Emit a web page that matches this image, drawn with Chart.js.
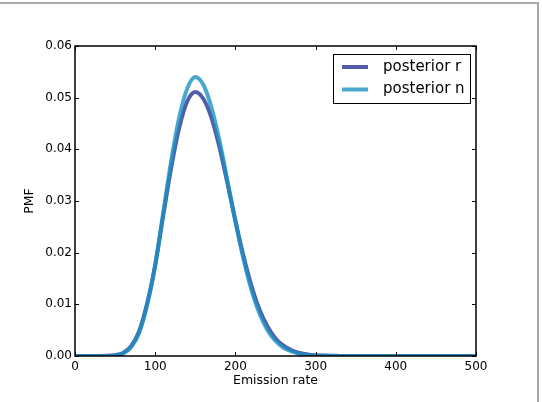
<!DOCTYPE html>
<html>
<head>
<meta charset="utf-8">
<script src="https://cdn.jsdelivr.net/npm/chart.js@4.4.0/dist/chart.umd.min.js"></script>
<style>
  html, body { margin: 0; padding: 0; background: #fff; }
  #wrap { position: relative; width: 542px; height: 402px; }
  #frame {
    position: absolute; left: 0; top: 2px; width: 539px; height: 400px;
    box-sizing: border-box;
    border-top: 2px solid #a8a8a8; border-right: 2px solid #a8a8a8;
    pointer-events: none;
  }
</style>
</head>
<body>
<div id="wrap">
  <canvas id="myChart" width="542" height="402"></canvas>
  <div id="frame"></div>
</div>
<script>
// emission rate (x) and the two posterior PMFs
const rates = [0, 10, 20, 30, 40, 50, 60, 70, 80, 90,
  100, 110, 120, 130, 140, 150, 160, 170, 180, 190,
  200, 210, 220, 230, 240, 250, 260, 270, 280, 290,
  300, 310, 320, 330, 340, 350, 360, 370, 380, 390,
  400, 410, 420, 430, 440, 450, 460, 470, 480, 490, 500];
const posteriorR = [0, 0, 0, 0, 0.00003, 0.00015, 0.0006, 0.0019, 0.0048, 0.0102,
  0.0176, 0.0272, 0.0365, 0.0442, 0.0493, 0.0511, 0.0498, 0.0462, 0.0405, 0.0335,
  0.0262, 0.0194, 0.0136, 0.0090, 0.0057, 0.0034, 0.0020, 0.0011, 0.0006, 0.0003,
  0.00015, 0.00008, 0.00004, 0.00002, 0, 0, 0, 0, 0, 0,
  0, 0, 0, 0, 0, 0, 0, 0, 0, 0, 0];
const posteriorN = [0, 0, 0, 0, 0.00002, 0.0001, 0.0005, 0.0017, 0.0045, 0.0099,
  0.0176, 0.0277, 0.0378, 0.0462, 0.0518, 0.0540, 0.0525, 0.0482, 0.0418, 0.0340,
  0.0260, 0.0188, 0.0128, 0.0082, 0.0050, 0.0029, 0.0016, 0.0009, 0.0004, 0.0002,
  0.0001, 0.00005, 0, 0, 0, 0, 0, 0, 0, 0,
  0, 0, 0, 0, 0, 0, 0, 0, 0, 0, 0];
const seriesNames = ["posterior r", "posterior n"];
const seriesColors = ["rgba(37,52,148,0.8)", "rgba(29,145,192,0.8)"];
const xTicks = [0, 100, 200, 300, 400, 500];
const yTicks = [0, 0.01, 0.02, 0.03, 0.04, 0.05, 0.06];

const FONT = "'DejaVu Sans', sans-serif";

function toPoints(vals) {
  return rates.map((r, i) => ({ x: r, y: vals[i] }));
}

// box round the plot plus matplotlib style inward ticks on all sides
const frameTicks = {
  id: "frameTicks",
  afterDatasetsDraw(chart) {
    const { ctx, chartArea: a, scales: { x, y } } = chart;
    ctx.save();
    ctx.strokeStyle = "#000";
    ctx.lineWidth = 1;
    ctx.beginPath();
    x.ticks.forEach(t => {
      const px = Math.round(x.getPixelForValue(t.value)) + 0.5;
      ctx.moveTo(px, a.bottom); ctx.lineTo(px, a.bottom - 4);
      ctx.moveTo(px, a.top); ctx.lineTo(px, a.top + 4);
    });
    y.ticks.forEach(t => {
      const py = Math.round(y.getPixelForValue(t.value)) + 0.5;
      ctx.moveTo(a.left, py); ctx.lineTo(a.left + 4, py);
      ctx.moveTo(a.right, py); ctx.lineTo(a.right - 4, py);
    });
    ctx.stroke();
    ctx.lineWidth = 1.5;
    ctx.strokeRect(a.left, a.top, a.right - a.left, a.bottom - a.top);
    ctx.restore();
  }
};

// legend box in the upper right corner of the plot
const boxLegend = {
  id: "boxLegend",
  afterDraw(chart) {
    const { ctx, chartArea: a } = chart;
    const left = a.right - 143, top = a.top + 8;
    ctx.save();
    ctx.fillStyle = "#fff";
    ctx.fillRect(left, top, 137, 49);
    ctx.strokeStyle = "#000";
    ctx.lineWidth = 1;
    ctx.strokeRect(left + 0.5, top + 0.5, 137, 49);
    ctx.font = "15px " + FONT;
    ctx.textBaseline = "middle";
    ctx.textAlign = "left";
    chart.data.datasets.forEach((ds, i) => {
      const rowY = top + 13 + i * 22.5;
      ctx.strokeStyle = ds.borderColor;
      ctx.lineWidth = 4;
      ctx.beginPath();
      ctx.moveTo(left + 9, rowY);
      ctx.lineTo(left + 35, rowY);
      ctx.stroke();
      ctx.fillStyle = "#000";
      ctx.fillText(ds.label, left + 50, rowY);
    });
    ctx.restore();
  }
};

const barCanvas = document.getElementById("myChart");

const myChart = new Chart(barCanvas, {
  type: "line",
  data: {
    datasets: [{
      label: seriesNames[0],
      data: toPoints(posteriorR),
      borderColor: seriesColors[0],
      borderWidth: 4,
      pointRadius: 0,
      cubicInterpolationMode: "monotone",
      order: 1
    }, {
      label: seriesNames[1],
      data: toPoints(posteriorN),
      borderColor: seriesColors[1],
      borderWidth: 4,
      pointRadius: 0,
      cubicInterpolationMode: "monotone",
      order: 0
    }]
  },
  options: {
    responsive: false,
    animation: false,
    layout: { padding: { left: 0, right: 66, top: 46, bottom: 10 } },
    scales: {
      x: {
        type: "linear",
        min: 0,
        max: 500,
        afterBuildTicks: s => { s.ticks = xTicks.map(v => ({ value: v })); },
        afterFit: s => { s.height = 36; },
        ticks: {
          color: "#000",
          padding: 4,
          maxRotation: 0,
          font: { family: FONT, size: 12 }
        },
        grid: { display: false, drawTicks: false },
        border: { display: false },
        title: {
          display: true,
          text: "Emission rate",
          color: "#000",
          font: { family: FONT, size: 12.5 },
          padding: { top: 0, bottom: 4 }
        }
      },
      y: {
        min: 0,
        max: 0.06,
        afterBuildTicks: s => { s.ticks = yTicks.map(v => ({ value: v })); },
        afterFit: s => { s.width = 75; },
        ticks: {
          color: "#000",
          padding: 3,
          font: { family: FONT, size: 12 },
          callback: v => v.toFixed(2)
        },
        grid: { display: false, drawTicks: false },
        border: { display: false },
        title: {
          display: true,
          text: "PMF",
          color: "#000",
          font: { family: FONT, size: 12.5 },
          padding: { top: 22, bottom: 0 }
        }
      }
    },
    plugins: {
      legend: { display: false },
      tooltip: { enabled: false }
    }
  },
  plugins: [frameTicks, boxLegend]
});
</script>
</body>
</html>
